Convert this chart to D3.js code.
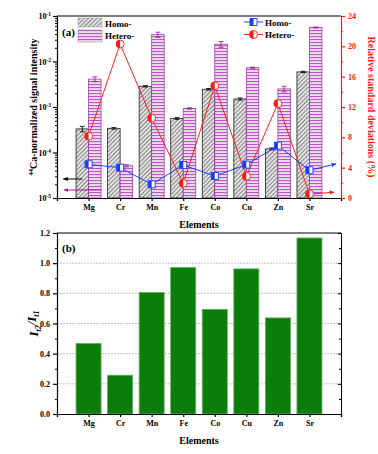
<!DOCTYPE html>
<html><head><meta charset="utf-8">
<script src="https://cdn.jsdelivr.net/npm/d3@7"></script>
<style>body{margin:0;background:#fff}svg{display:block}text{font-family:"Liberation Serif","Times New Roman",serif;font-weight:bold}</style>
</head><body>
<svg id="c" width="378" height="454"></svg>
<script>
const elements = ["Mg","Cr","Mn","Fe","Co","Cu","Zn","Sr"];
const homoIntensity = [3.3e-4,3.4e-4,2.85e-3,5.6e-4,2.45e-3,1.5e-3,1.2e-4,5.9e-3];
const homoErr = [0.45e-4,0.15e-4,0.1e-3,0.3e-4,0.1e-3,0.08e-3,0.06e-4,0.2e-3];
const heteroIntensity = [4.1e-3,5.1e-5,3.9e-2,9.3e-4,2.4e-2,7.3e-3,2.5e-3,5.6e-2];
const heteroErr = [0.5e-3,0.3e-5,0.5e-2,0.3e-4,0.35e-2,0.2e-3,0.35e-3,0.1e-2];
const homoRSD = [4.44,4.0,1.8,4.35,2.9,4.4,6.9,3.65];
const heteroRSD = [8.15,20.3,10.55,1.93,14.8,2.86,12.45,0.53];
const ratio = [0.468,0.257,0.806,0.971,0.694,0.962,0.637,1.167];
const logTicks = [1e-5,1e-4,1e-3,1e-2,1e-1];
const rsdTicks = [0,4,8,12,16,20,24];
const ratioTicks = [0,0.2,0.4,0.6,0.8,1.0,1.2];

const svg = d3.select("#c");
const defs = svg.append("defs");
const ph = defs.append("pattern").attr("id","hatch").attr("patternUnits","userSpaceOnUse").attr("width",3).attr("height",3).attr("patternTransform","rotate(45)");
ph.append("rect").attr("width",3).attr("height",3).attr("fill","#e2e2e2");
ph.append("line").attr("x1",0).attr("y1",0).attr("x2",0).attr("y2",3).attr("stroke","#2a2a2a").attr("stroke-width",1);
const ps = defs.append("pattern").attr("id","stripe").attr("patternUnits","userSpaceOnUse").attr("width",4).attr("height",3);
ps.append("rect").attr("width",4).attr("height",3).attr("fill","#f2d9f2");
ps.append("rect").attr("y",0).attr("width",4).attr("height",1.1).attr("fill","#b05cb8");
function arrow(id,color){
  defs.append("marker").attr("id",id).attr("viewBox","0 0 10 10").attr("refX",9).attr("refY",5)
    .attr("markerWidth",5).attr("markerHeight",5).attr("orient","auto")
    .append("path").attr("d","M0,1 L10,5 L0,9 Z").attr("fill",color);
}
arrow("ak","#000");arrow("ap","#a020a0");arrow("ab","#1a3cff");arrow("ar","#ff1a1a");

const L=57,R=341,T1=16,B1=198,T2=233,B2=414;
const x = d3.scaleLinear().domain([0,9]).range([L,R]);
const y1 = d3.scaleLog().domain([1e-5,1e-1]).range([B1,T1]);
const yr = d3.scaleLinear().domain([0,24]).range([B1,T1]);
const y2 = d3.scaleLinear().domain([0,1.2]).range([B2,T2]);
const pos = (i)=>x(i+1);
const fs = 8;

// ===== Panel (a) =====
const bw = 12.5;
const ga = svg.append("g");
elements.forEach((e,i)=>{
  ga.append("rect").attr("x",pos(i)-bw).attr("y",y1(homoIntensity[i])).attr("width",bw).attr("height",B1-y1(homoIntensity[i]))
    .attr("fill","url(#hatch)").attr("stroke","#222").attr("stroke-width",0.8);
  ga.append("rect").attr("x",pos(i)).attr("y",y1(heteroIntensity[i])).attr("width",bw).attr("height",B1-y1(heteroIntensity[i]))
    .attr("fill","url(#stripe)").attr("stroke","#a040a8").attr("stroke-width",0.8);
});
function errbar(cx,v,err,color){
  const yt=y1(v+err), yb=y1(Math.max(v-err,1e-6));
  ga.append("line").attr("x1",cx).attr("x2",cx).attr("y1",yt).attr("y2",yb).attr("stroke",color).attr("stroke-width",0.8);
  [yt,yb].forEach(yy=>ga.append("line").attr("x1",cx-2.5).attr("x2",cx+2.5).attr("y1",yy).attr("y2",yy).attr("stroke",color).attr("stroke-width",0.8));
}
elements.forEach((e,i)=>{
  errbar(pos(i)-bw/2,homoIntensity[i],homoErr[i],"#000");
  errbar(pos(i)+bw/2,heteroIntensity[i],heteroErr[i],"#8a1a90");
});
const line = d3.line().x((d,i)=>pos(i)).y(d=>yr(d));
ga.append("path").datum(heteroRSD).attr("d",line).attr("fill","none").attr("stroke","#ff2020").attr("stroke-width",1);
ga.append("path").datum(homoRSD).attr("d",line).attr("fill","none").attr("stroke","#2040ff").attr("stroke-width",1);
ga.append("line").attr("x1",pos(7)).attr("y1",yr(homoRSD[7])).attr("x2",R-5).attr("y2",yr(4.5)).attr("stroke","#1a3cff").attr("stroke-width",1).attr("marker-end","url(#ab)");
ga.append("line").attr("x1",pos(7)).attr("y1",yr(heteroRSD[7])).attr("x2",R-7).attr("y2",yr(0.75)).attr("stroke","#ff1a1a").attr("stroke-width",1).attr("marker-end","url(#ar)");
ga.append("line").attr("x1",x(0.8)).attr("y1",179).attr("x2",x(0.2)).attr("y2",179).attr("stroke","#000").attr("stroke-width",1).attr("marker-end","url(#ak)");
ga.append("line").attr("x1",x(1.4)).attr("y1",190).attr("x2",x(0.22)).attr("y2",190).attr("stroke","#a020a0").attr("stroke-width",1).attr("marker-end","url(#ap)");

function sq(g,cx,cy){
  const s=7;
  g.append("rect").attr("x",cx-s/2).attr("y",cy-s/2).attr("width",s).attr("height",s).attr("fill","#fff").attr("stroke","#1a3cff").attr("stroke-width",0.9);
  g.append("rect").attr("x",cx-s/2).attr("y",cy-s/2).attr("width",s/2).attr("height",s).attr("fill","#1a3cff");
}
function circ(g,cx,cy){
  const r=4;
  g.append("circle").attr("cx",cx).attr("cy",cy).attr("r",r).attr("fill","#fff").attr("stroke","#ff1a1a").attr("stroke-width",0.9);
  g.append("path").attr("d",`M${cx},${cy-r} A${r},${r} 0 0 0 ${cx},${cy+r} Z`).attr("fill","#ff1a1a");
}
heteroRSD.forEach((d,i)=>circ(ga,pos(i),yr(d)));
homoRSD.forEach((d,i)=>sq(ga,pos(i),yr(d)));

const gxa = svg.append("g").attr("transform",`translate(0,${B1})`)
  .call(d3.axisBottom(x).tickValues(d3.range(0,10)).tickSize(3).tickFormat(d=>(d>=1&&d<=8)?elements[d-1]:""));
const minorLog=[];
for(let p=-5;p<-1;p++) for(let m=2;m<10;m++) minorLog.push(m*Math.pow(10,p));
svg.append("g").attr("transform",`translate(${L},0)`).call(d3.axisLeft(y1).tickValues(minorLog).tickSize(2).tickFormat(""));
const gya = svg.append("g").attr("transform",`translate(${L},0)`).call(d3.axisLeft(y1).tickValues(logTicks).tickSize(4).tickFormat(""));
gya.selectAll(".tick").each(function(d){
  const t=d3.select(this).append("text").attr("x",-6).attr("dy","0.32em").attr("text-anchor","end").attr("fill","#000").style("font-size",fs+"px");
  t.append("tspan").text("10");
  t.append("tspan").attr("dy","-0.5em").style("font-size","5.5px").text(Math.round(Math.log10(d)));
});
const gra = svg.append("g").attr("transform",`translate(${R},0)`).call(d3.axisRight(yr).tickValues(rsdTicks).tickSize(4));
svg.append("g").attr("transform",`translate(${R},0)`).call(d3.axisRight(yr).tickValues(d3.range(2,24,4)).tickSize(2).tickFormat(""))
  .selectAll("line,path").attr("stroke","#ff1a1a");
gra.selectAll("line,path").attr("stroke","#ff1a1a").attr("stroke-width",1.2);
gra.selectAll("text").attr("fill","#ff1a1a").style("font-size",fs+"px");
svg.append("line").attr("x1",L).attr("x2",R).attr("y1",T1).attr("y2",T1).attr("stroke","#000").attr("stroke-width",1.2);
[gxa,gya].forEach(g=>{g.selectAll("path,line").attr("stroke","#000").attr("stroke-width",1.2);g.selectAll("text").style("font-size",fs+"px");});

svg.append("rect").attr("x",78).attr("y",18).attr("width",24).attr("height",9).attr("fill","url(#hatch)").attr("stroke","#999").attr("stroke-width",0.5);
svg.append("rect").attr("x",78).attr("y",30).attr("width",24).attr("height",12).attr("fill","url(#stripe)").attr("stroke","#b070b8").attr("stroke-width",0.5);
svg.append("text").attr("x",105).attr("y",26.5).style("font-size","9px").text("Homo-");
svg.append("text").attr("x",105).attr("y",39).style("font-size","9px").text("Hetero-");
svg.append("text").attr("x",62).attr("y",36).style("font-size","11px").text("(a)");
const lg = svg.append("g");
lg.append("line").attr("x1",244).attr("x2",263).attr("y1",22).attr("y2",22).attr("stroke","#2040ff");
sq(lg,253.5,22);
lg.append("line").attr("x1",244).attr("x2",263).attr("y1",34.5).attr("y2",34.5).attr("stroke","#ff2020");
circ(lg,253.5,34.5);
lg.append("text").attr("x",265).attr("y",25.5).style("font-size","9px").text("Homo-");
lg.append("text").attr("x",265).attr("y",38).style("font-size","9px").text("Hetero-");

const yl = svg.append("text").attr("transform",`translate(36,${(T1+B1)/2}) rotate(-90)`).attr("text-anchor","middle").style("font-size","10px");
yl.append("tspan").attr("dy","-0.4em").style("font-size","6.5px").text("44");
yl.append("tspan").attr("dy","0.4em").text("Ca-normalized signal intensity");
svg.append("text").attr("transform",`translate(368,${(T1+B1)/2}) rotate(90)`).attr("text-anchor","middle").attr("fill","#ff1a1a").style("font-size","10px").text("Relative standard deviations (%)");
svg.append("text").attr("x",(L+R)/2).attr("y",228).attr("text-anchor","middle").style("font-size","10px").text("Elements");

// ===== Panel (b) =====
const gb = svg.append("g");
gb.selectAll("line.grid").data(ratioTicks.slice(1,6)).enter().append("line")
  .attr("x1",L).attr("x2",R).attr("y1",d=>y2(d)).attr("y2",d=>y2(d)).attr("stroke","#aaa").attr("stroke-width",0.7).attr("stroke-dasharray","2,1");
const bw2=25;
gb.selectAll("rect.bar").data(ratio).enter().append("rect")
  .attr("x",(d,i)=>pos(i)-bw2/2).attr("y",d=>y2(d)).attr("width",bw2).attr("height",d=>B2-y2(d))
  .attr("fill","#0a7d0a").attr("stroke","#5fae5f").attr("stroke-width",0.8);
const gxb = svg.append("g").attr("transform",`translate(0,${B2})`)
  .call(d3.axisBottom(x).tickValues(d3.range(0,10)).tickSize(3).tickFormat(d=>(d>=1&&d<=8)?elements[d-1]:""));
const gyb = svg.append("g").attr("transform",`translate(${L},0)`).call(d3.axisLeft(y2).tickValues(ratioTicks).tickSize(4).tickFormat(d3.format(".1f")));
svg.append("g").attr("transform",`translate(${L},0)`).call(d3.axisLeft(y2).tickValues(d3.range(0.1,1.2,0.2)).tickSize(2).tickFormat(""));
svg.append("g").attr("transform",`translate(${R},0)`).call(d3.axisLeft(y2).tickValues(ratioTicks).tickSize(3).tickFormat(""));
svg.append("g").attr("transform",`translate(${R},0)`).call(d3.axisLeft(y2).tickValues(d3.range(0.1,1.2,0.2)).tickSize(2).tickFormat(""));
svg.append("line").attr("x1",L).attr("x2",R).attr("y1",T2).attr("y2",T2).attr("stroke","#000").attr("stroke-width",1.2);
[gxb,gyb].forEach(g=>{g.selectAll("path,line").attr("stroke","#000").attr("stroke-width",1.2);g.selectAll("text").style("font-size",fs+"px");});
svg.append("text").attr("x",62).attr("y",252).style("font-size","11px").text("(b)");
const yl2 = svg.append("text").attr("transform",`translate(38,${(T2+B2)/2}) rotate(-90)`).attr("text-anchor","middle").style("font-size","13px").style("font-style","italic");
yl2.append("tspan").text("I");
yl2.append("tspan").attr("dy","0.35em").style("font-size","8px").text("t2");
yl2.append("tspan").attr("dy","-0.35em").text("/I");
yl2.append("tspan").attr("dy","0.35em").style("font-size","8px").text("t1");
svg.append("text").attr("x",(L+R)/2).attr("y",444).attr("text-anchor","middle").style("font-size","10px").text("Elements");
</script>
</body></html>
